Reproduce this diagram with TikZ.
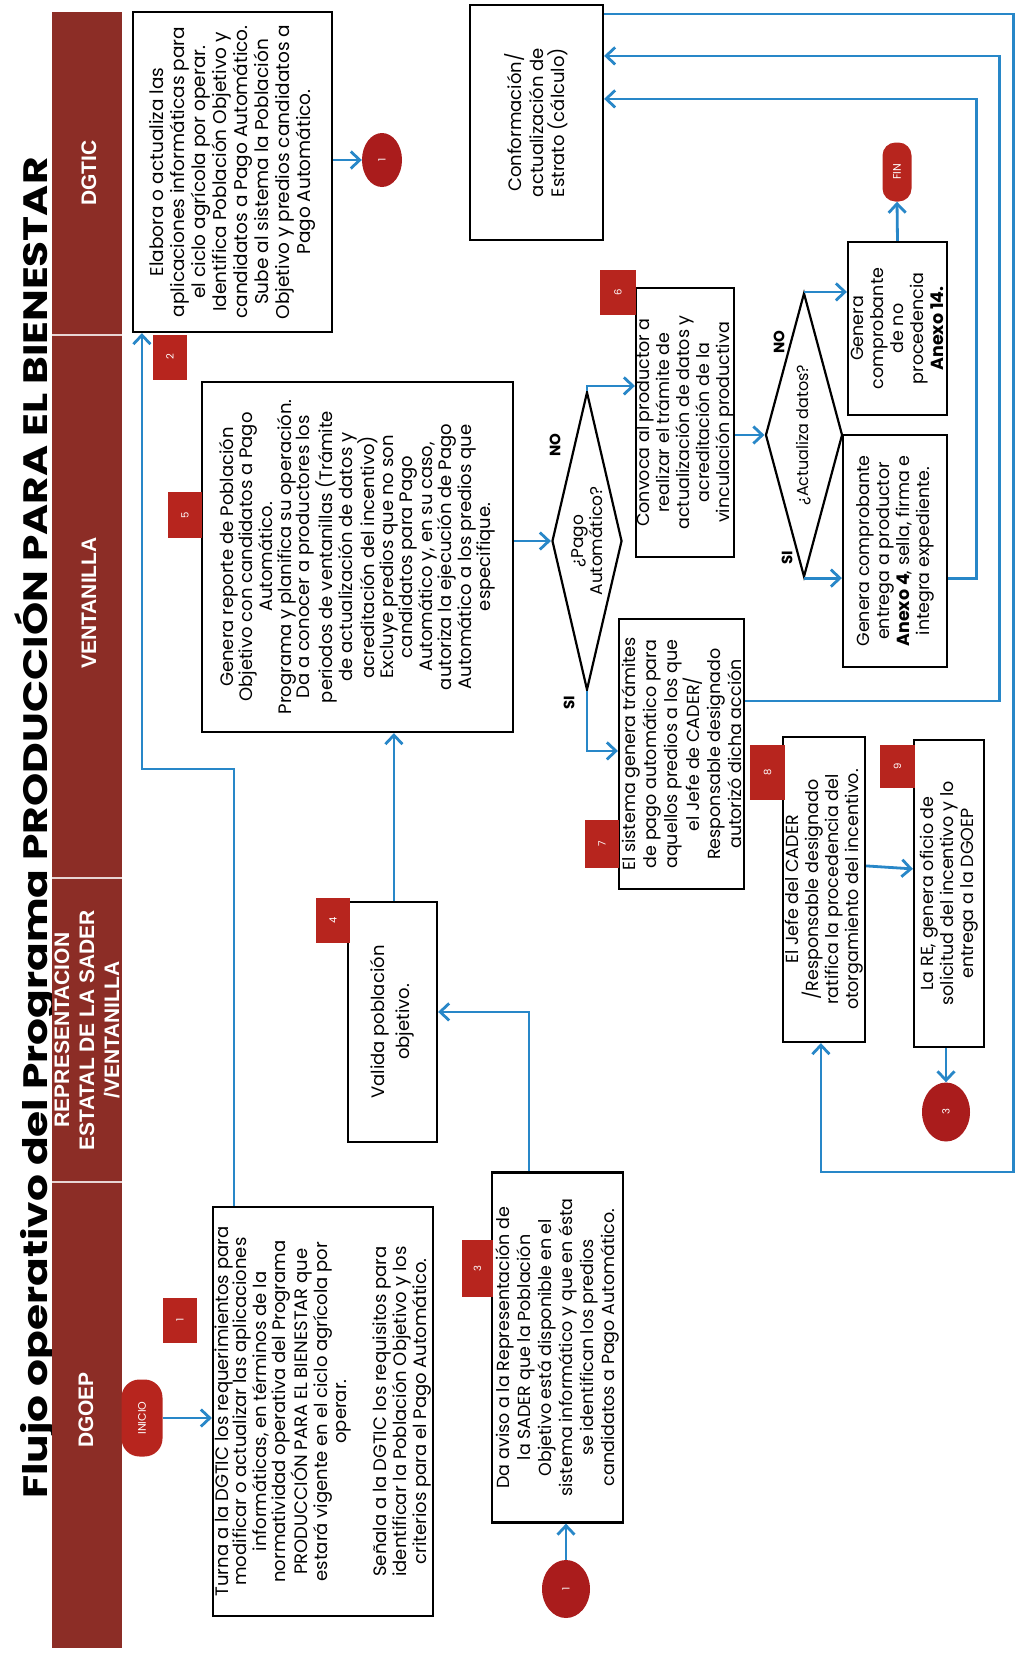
\documentclass[tikz,border=0pt]{standalone}
\usepackage{graphicx}
\usepackage{fontspec}
\setmainfont{Poppins}
\newfontfamily\hdrfont{Liberation Sans}
\newfontfamily\titlefont{Poppins}[FakeStretch=1.25]
\usetikzlibrary{shapes.geometric,arrows.meta,calc}
\definecolor{barc}{RGB}{140,45,38}
\definecolor{labc}{RGB}{183,37,30}
\definecolor{circc}{RGB}{170,28,28}
\definecolor{connc}{RGB}{40,135,200}
\newcommand{\vt}[4]{\rotatebox{90}{\parbox{#1}{\centering\fontsize{#2}{#3}\selectfont #4}}}
\newcommand{\rt}[2]{\rotatebox{90}{\fontsize{#1}{#1}\selectfont #2}}
\begin{document}
\begin{tikzpicture}[x=1pt,y=-1pt,
  box/.style={draw=black,line width=2.2pt,fill=white,inner sep=0pt,rectangle},
  dia/.style={diamond,draw=black,line width=2.2pt,fill=white,inner sep=0pt},
  arr/.style={draw=connc,line width=2.8pt,-{Straight Barb[length=9pt,width=17pt]}},
  lbl/.style={fill=labc,inner sep=0pt,text=white},
  circ/.style={ellipse,fill=circc,inner sep=0pt,text=white},
  term/.style={rectangle,fill=labc,inner sep=0pt,text=white},
  hdr/.style={text=white,inner sep=0pt},
  yn/.style={inner sep=0pt}]
\fill[white] (0,0) rectangle (1024,1655);
\useasboundingbox (0,0) rectangle (1024,1655);
% title
\node[inner sep=0pt] (title) at (36,828) {\rotatebox{90}{\resizebox{1341pt}{!}{\titlefont\bfseries Flujo operativo del Programa PRODUCCIÓN PARA EL BIENESTAR}}};
% header bar
\fill[barc] (52,12) rectangle (122,1648);
\draw[white!80!barc,line width=1.2pt] (52,335) -- (122,335);
\draw[white!80!barc,line width=1.2pt] (52,878) -- (122,878);
\draw[white!80!barc,line width=1.2pt] (52,1182) -- (122,1182);
\node[hdr] (hdgtic) at (89,173) {\rt{21}{\hdrfont\bfseries DGTIC}};
\node[hdr] (hvent) at (89,603) {\rt{21}{\hdrfont\bfseries VENTANILLA}};
\node[hdr] (hrep) at (87,1030) {\rotatebox{90}{\parbox{290pt}{\centering\hdrfont\bfseries\fontsize{21}{25}\selectfont REPRESENTACION\\ESTATAL DE LA SADER\\/VENTANILLA}}};
\node[hdr] (hdgoep) at (86,1410) {\rt{21}{\hdrfont\bfseries DGOEP}};
% terminals and connectors
\node[term,rounded corners=18pt,minimum width=41pt,minimum height=77pt] (inicio) at (142,1418) {\rt{11}{INICIO}};
\node[term,rounded corners=13pt,minimum width=29pt,minimum height=59pt] (fin) at (897,172) {\rt{11}{FIN}};
\node[circ,minimum width=40pt,minimum height=54pt] (c1top) at (382,160) {\rt{10}{1}};
\node[circ,minimum width=48pt,minimum height=58pt] (c1bot) at (566,1589) {\rt{10}{1}};
\node[circ,minimum width=48pt,minimum height=59pt] (c3) at (946,1112) {\rt{10}{3}};
% boxes
\node[box,minimum width=220pt,minimum height=409pt] (box1) at (323,1411.5) {\vt{400pt}{18}{18.6}{Turna a la DGTIC los requerimientos para\\
modificar o actualizar las aplicaciones\\
informáticas, en términos de la\\
normatividad operativa del Programa\\
PRODUCCIÓN PARA EL BIENESTAR que\\
estará vigente en el ciclo agrícola por\\
operar.\\[22pt]
Señala a la DGTIC los requisitos para\\
identificar la Población Objetivo y los\\
criterios para el Pago Automático.}};
\node[box,minimum width=199pt,minimum height=320pt] (box2) at (232.5,172) {\vt{312pt}{18.5}{21}{Elabora o actualiza las\\
aplicaciones informáticas para\\
el ciclo agrícola por operar.\\
Identifica Población Objetivo y\\
candidatos a Pago Automático.\\
Sube al sistema la Población\\
Objetivo y predios candidatos a\\
Pago Automático.}};
\node[box,minimum width=131pt,minimum height=345pt] (box3) at (557.5,1347.5) {\vt{350pt}{17.5}{21}{Da aviso a la Representación de\\
la SADER que la Población\\
Objetivo está disponible en el\\
sistema informático y que en ésta\\
se identifican los predios\\
candidatos a Pago Automático.}};
\node[box,minimum width=89pt,minimum height=240pt] (box4) at (392.5,1022) {\vt{225pt}{18}{25}{Valida población\\objetivo.}};
\node[box,minimum width=311pt,minimum height=350pt] (box5) at (357.5,557) {\vt{342pt}{18}{18.7}{Genera reporte de Población\\
Objetivo con candidatos a Pago\\
Automático.\\
Programa y planifica su operación.\\
Da a conocer a productores los\\
periodos de ventanillas (Trámite\\
de actualización de datos y\\
acreditación del incentivo)\\
Excluye predios que no son\\
candidatos para Pago\\
Automático y, en su caso,\\
autoriza la ejecución de Pago\\
Automático a los predios que\\
especifique.}};
\node[box,minimum width=98pt,minimum height=269pt] (box6) at (685,422.5) {\vt{262pt}{17.5}{20}{Convoca al productor a\\
realizar el trámite de\\
actualización de datos y\\
acreditación de la\\
vinculación productiva}};
\node[box,minimum width=125pt,minimum height=268pt] (box7) at (681.5,754) {\vt{270pt}{17.5}{21}{El sistema genera trámites\\
de pago automático para\\
aquellos predios a los que\\
el Jefe de CADER/\\
Responsable designado\\
autorizó dicha acción}};
\node[box,minimum width=82pt,minimum height=305pt] (box8) at (824,889.5) {\vt{295pt}{17.5}{20}{El Jefe del CADER\\
/Responsable designado\\
ratifica la procedencia del\\
otorgamiento del incentivo.}};
\node[box,minimum width=70pt,minimum height=307pt] (box9) at (949,893.5) {\vt{297pt}{17.5}{20}{La RE, genera oficio de\\
solicitud del incentivo y lo\\
entrega a la DGOEP}};
\node[box,minimum width=133pt,minimum height=235pt] (conf) at (536.5,122.5) {\vt{225pt}{18}{21.5}{Conformación/\\actualización de\\Estrato (cálculo)}};
\node[box,minimum width=104pt,minimum height=232pt] (boxA4) at (895,551) {\vt{224pt}{17.5}{20}{Genera comprobante\\entrega a productor\\\textbf{Anexo 4}, sella, firma e\\integra expediente.}};
\node[box,minimum width=99pt,minimum height=173pt] (boxNP) at (897.5,328.5) {\vt{165pt}{17.5}{20}{Genera\\comprobante\\de no\\procedencia\\\textbf{Anexo 14.}}};
% decisions
\node[dia,aspect=0.235,minimum width=70pt,minimum height=298pt] (dia1) at (587,541) {\vt{110pt}{17}{17}{¿Pago\\Automático?}};
\node[dia,aspect=0.27,minimum width=77pt,minimum height=284pt] (dia2) at (804,435) {\rt{16}{¿Actualiza datos?}};
\node[yn] (no1) at (555,445) {\rt{15}{\textbf{NO}}};
\node[yn] (si1) at (569,703) {\rt{15}{\textbf{SI}}};
\node[yn] (no2) at (779,342) {\rt{15}{\textbf{NO}}};
\node[yn] (si2) at (787,558) {\rt{15}{\textbf{SI}}};
% step labels
\node[lbl,minimum width=34pt,minimum height=45pt] (l1) at (180,1320) {\rt{10}{1}};
\node[lbl,minimum width=34pt,minimum height=45pt] (l2) at (170,357) {\rt{10}{2}};
\node[lbl,minimum width=31pt,minimum height=57pt] (l3) at (477.5,1268.5) {\rt{10}{3}};
\node[lbl,minimum width=34pt,minimum height=45pt] (l4) at (333,920) {\rt{10}{4}};
\node[lbl,minimum width=34pt,minimum height=46pt] (l5) at (185,515) {\rt{10}{5}};
\node[lbl,minimum width=36pt,minimum height=45pt] (l6) at (618,292) {\rt{10}{6}};
\node[lbl,minimum width=34pt,minimum height=48pt] (l7) at (602,844) {\rt{10}{7}};
\node[lbl,minimum width=35pt,minimum height=55pt] (l8) at (767.5,772.5) {\rt{10}{8}};
\node[lbl,minimum width=35pt,minimum height=43pt] (l9) at (897.5,766.5) {\rt{10}{9}};
% connectors
\draw[arr] (inicio.east) -- (inicio.east -| box1.west);
\draw[arr] ($(box1.north west)+(22,0)$) -- ++(0,-437) -| ($(box2.south west)+(10,0)$);
\draw[arr] (c1top.west -| box2.east) -- (c1top.west);
\draw[arr] (c1bot.north) -- (c1bot.north |- box3.south);
\draw[arr] ($(box3.north west)+(38,0)$) |- ($(box4.north east)+(0,111)$);
\coordinate (a4) at ($(box4.north west)+(47,0)$);
\draw[arr] (a4) -- (a4 |- box5.south);
\draw[arr] (dia1.west -| box5.east) -- (dia1.west);
\draw[arr] (dia1.north) |- ($(box6.north west)+(0,99)$);
\draw[arr] (dia1.south) |- ($(box7.north west)+(0,133)$);
\draw[arr] (dia2.west -| box6.east) -- (dia2.west);
\draw[arr] (dia2.north) -- (dia2.north -| boxNP.west);
\draw[arr] (dia2.south) -- (dia2.south -| boxA4.west);
\draw[arr] (boxNP.north) -- (fin.south);
\draw[arr] (boxA4.east |- dia2.south) -- ++(28,0) |- ($(conf.north east)+(0,95)$);
\draw[arr] ($(box7.north east)+(0,83)$) -- ++(254,0) |- ($(conf.north east)+(0,52)$);
\draw[arr] ($(conf.north east)+(0,10)$) -- ++(409,0) -- ++(0,1158) -| ($(box8.south west)+(39,0)$);
\draw[arr] ($(box8.north east)+(0,130)$) -- ($(box9.north west)+(0,130)$);
\draw[arr] (c3.north |- box9.south) -- (c3.north);
\end{tikzpicture}
\end{document}
